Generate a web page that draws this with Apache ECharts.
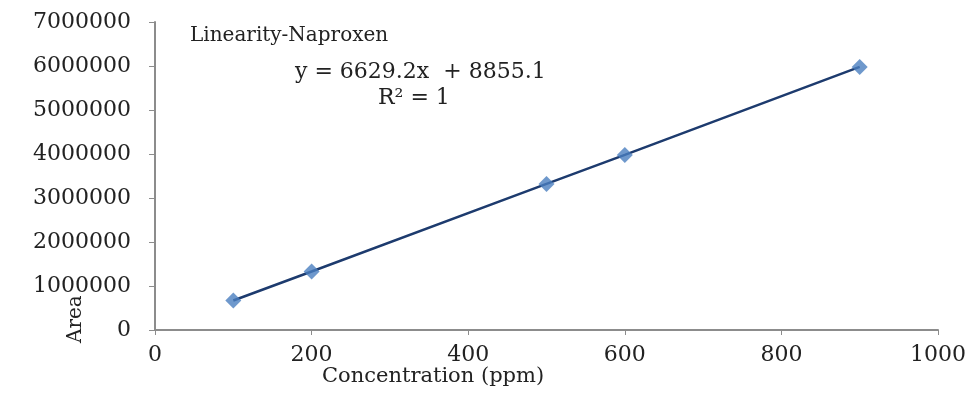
<!DOCTYPE html>
<html>
<head>
<meta charset="utf-8">
<script src="https://cdn.jsdelivr.net/npm/echarts@6/dist/echarts.min.js"></script>
<style>
	html, body { margin: 0; padding: 0; background: #fff; }
	#chart { width: 972px; height: 393px; }
</style>
</head>
<body>
<div id="chart"></div>
<script type="text/javascript">
	// data
	var concentration = [100, 200, 500, 600, 900];
	var area = [670000, 1330000, 3320000, 3980000, 5980000];
	var chartTitle = 'Linearity-Naproxen';
	var equation = 'y = 6629.2x  + 8855.1';
	var rSquared = 'R\u00b2 = 1';

	var points = concentration.map(function(x, i){
		return [x, area[i]];
	});
	var serif = '"DejaVu Serif", "Liberation Serif", serif';

	var myChart = echarts.init(document.getElementById('chart'));
	var option = {
		animation: false,
		grid: {
			left: 155,
			right: 34,
			top: 22,
			bottom: 63
		},
		xAxis: {
			type: 'value',
			min: 0,
			max: 1000,
			interval: 200,
			splitLine: {show: false},
			axisLine: {lineStyle: {color: '#8c8c8c', width: 2}},
			axisTick: {show: true, length: 5, lineStyle: {color: '#8c8c8c'}},
			axisLabel: {
				fontFamily: serif,
				fontSize: 22,
				color: '#222',
				margin: 14,
				formatter: function(v){ return String(v); }
			}
		},
		yAxis: {
			type: 'value',
			min: 0,
			max: 7000000,
			interval: 1000000,
			splitLine: {show: false},
			axisLine: {show: true, lineStyle: {color: '#8c8c8c', width: 2}},
			axisTick: {show: true, length: 6, lineStyle: {color: '#8c8c8c'}},
			axisLabel: {
				fontFamily: serif,
				fontSize: 22,
				color: '#222',
				margin: 24,
				formatter: function(v){ return String(v); }
			}
		},
		graphic: [
			{
				type: 'text', left: 190, top: 26,
				style: {text: chartTitle, font: '20px ' + serif, fill: '#222'}
			},
			{
				type: 'text', left: 295, top: 61,
				style: {text: equation, font: '22px ' + serif, fill: '#222'}
			},
			{
				type: 'text', left: 378, top: 87,
				style: {text: rSquared, font: '22px ' + serif, fill: '#222'}
			},
			{
				type: 'text', left: 322, top: 366,
				style: {text: 'Concentration (ppm)', font: '21px ' + serif, fill: '#222'}
			},
			{
				type: 'text', x: 66, y: 343, rotation: Math.PI / 2,
				style: {text: 'Area', font: '20px ' + serif, fill: '#222'}
			}
		],
		series: [
			{
				name: 'trend',
				type: 'line',
				data: points,
				showSymbol: false,
				symbol: 'none',
				lineStyle: {color: '#1d3b6e', width: 2.5},
				z: 2
			},
			{
				name: 'Area',
				type: 'scatter',
				data: points,
				symbol: 'diamond',
				symbolSize: 16,
				itemStyle: {color: '#4a7ebf'},
				z: 3
			}
		]
	};
	myChart.setOption(option);
</script>
</body>
</html>
